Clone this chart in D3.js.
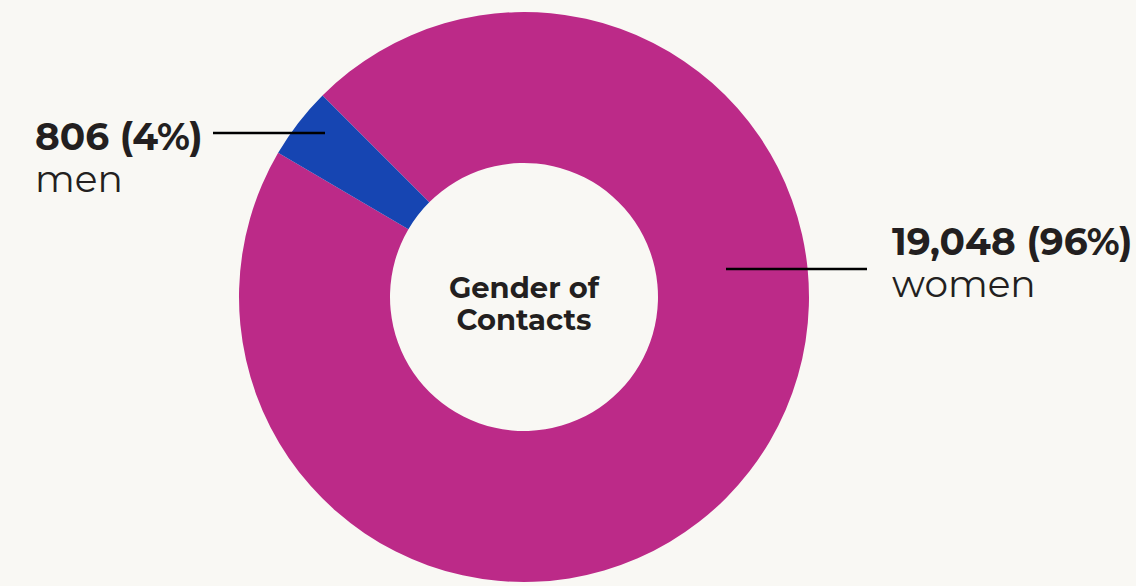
<!DOCTYPE html>
<html>
<head>
<meta charset="utf-8">
<script src="https://cdn.jsdelivr.net/npm/d3@7"></script>
<style>
  html, body { margin: 0; padding: 0; background: #f9f8f4; }
  svg { display: block; }
  text { font-family: Montserrat, Inter, "DejaVu Sans", sans-serif; fill: #231f20; }
</style>
</head>
<body>
<svg id="chart" width="1136" height="586"></svg>
<script>
const categories = ["women", "men"];
const values = [19048, 806];
const percents = ["96%", "4%"];
const colors = ["#bc2a88", "#1645b2"];
const centerTitle = ["Gender of", "Contacts"];

const W = 1136, H = 586;
const cx = 524, cy = 297, rOuter = 285, rInner = 134;

const svg = d3.select("#chart");
svg.append("rect").attr("width", W).attr("height", H).attr("fill", "#f9f8f4");

const pie = d3.pie().sort(null).value(d => d.value)
  .startAngle(-Math.PI / 4).endAngle(-Math.PI / 4 + 2 * Math.PI);
const data = categories.map((c, i) => ({ cat: c, value: values[i], pct: percents[i], color: colors[i] }));
const arcs = pie(data);
const arc = d3.arc().innerRadius(rInner).outerRadius(rOuter);

const g = svg.append("g").attr("transform", `translate(${cx},${cy})`);
g.selectAll("path").data(arcs).join("path")
  .attr("d", arc).attr("fill", d => d.data.color);

// center title
g.append("text").attr("text-anchor", "middle").attr("font-weight", 700).attr("font-size", 29)
  .selectAll("tspan").data(centerTitle).join("tspan")
  .attr("x", 0).attr("y", (d, i) => i === 0 ? 0.5 : 33).text(d => d);

const fmt = d3.format(",");
// label layout (annotation positions)
const labels = [
  { i: 0, x: 892, y: 255, lineX1: 726, lineX2: 867, lineY: 269 },
  { i: 1, x: 35, y: 150, lineX1: 213, lineX2: 325, lineY: 133 }
];
labels.forEach(l => {
  const d = arcs[l.i].data;
  svg.append("line").attr("x1", l.lineX1).attr("x2", l.lineX2)
    .attr("y1", l.lineY).attr("y2", l.lineY)
    .attr("stroke", "#000").attr("stroke-width", 2.5);
  const t = svg.append("text").attr("x", l.x).attr("y", l.y);
  t.append("tspan").attr("font-weight", 700).attr("font-size", 37.5)
    .text(`${fmt(d.value)} (${d.pct})`);
  t.append("tspan").attr("x", l.x).attr("dy", 42).attr("font-size", 37.5)
    .text(d.cat);
});
</script>
</body>
</html>
